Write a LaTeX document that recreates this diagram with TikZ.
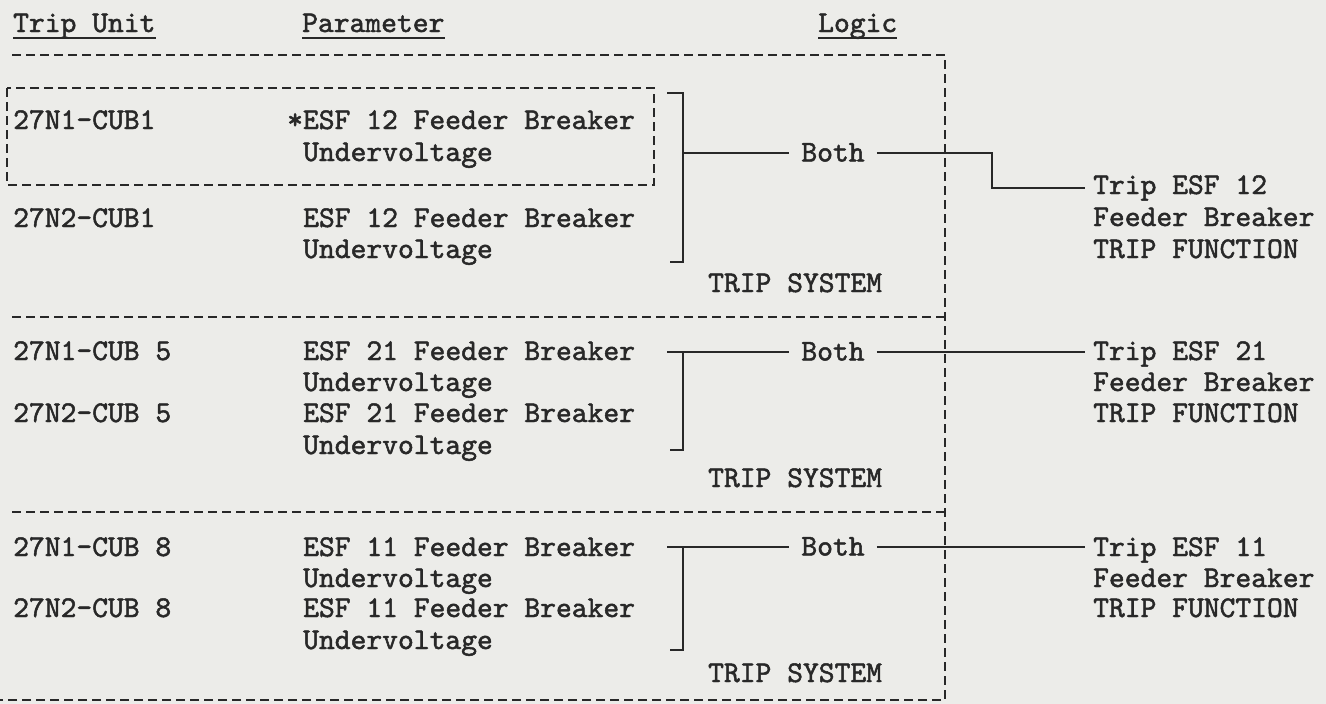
\documentclass[tikz,border=0pt]{standalone}
\usepackage{fontspec}
\newfontfamily\typefont{lmmono10-regular.otf}[RawFeature={embolden=1.6}]
\usepackage{xcolor}
\usepackage{tikz}
\usetikzlibrary{positioning}

\definecolor{paper}{RGB}{236,236,233}
\definecolor{ink}{RGB}{40,40,40}

\begin{document}
\begin{tikzpicture}[
  x=1pt, y=-1pt,
  txt/.style={inner sep=0pt, anchor=base west, text=ink,
              font=\typefont\fontsize{30.1}{34}\selectfont},
  both/.style={txt, anchor=base, inner xsep=12pt},
  sep/.style={draw=ink, line width=2.7pt, dash pattern=on 9pt off 5pt},
  wire/.style={draw=ink, line width=2.7pt},
  uline/.style={draw=ink, line width=2.2pt}
]
\fill[paper] (0,0) rectangle (1326,704);
\useasboundingbox (0,0) rectangle (1326,704);

% headings
\node[txt] (hunit) at (13,32) {Trip Unit};
\node[txt] (hpar) at (302,32) {Parameter};
\node[txt] (hlogic) at (818,32) {Logic};
\draw[uline] ([yshift=-6pt]hunit.base west) -- ([yshift=-6pt]hunit.base east);
\draw[uline] ([yshift=-6pt]hpar.base west) -- ([yshift=-6pt]hpar.base east);
\draw[uline] ([yshift=-6pt]hlogic.base west) -- ([yshift=-6pt]hlogic.base east);

% trip system frames
\draw[sep] (12,55) -- (945,55) -- (945,700) -- (0,700);
\draw[sep] (12,317) -- (945,317);
\draw[sep] (12,512) -- (945,512);
\draw[sep] (7,88) rectangle (654,185);

% ESF 12
\node[txt] (unit1a) at (13,129) {27N1-CUB1};
\node[txt] (par1a) at (287,129) {*ESF 12 Feeder Breaker};
\node[txt] (par1b) at (303,161) {Undervoltage};
\node[txt] (unit1b) at (13,227) {27N2-CUB1};
\node[txt] (par1c) at (303,227) {ESF 12 Feeder Breaker};
\node[txt] (par1d) at (303,258) {Undervoltage};
\node[txt] (sys1) at (708,292) {TRIP SYSTEM};
\node[both] (both1) at (833,161.5) {Both};
\node[txt] (out1a) at (1093,194) {Trip ESF 12};
\node[txt] (out1b) at (1093,226) {Feeder Breaker};
\node[txt] (out1c) at (1093,258) {TRIP FUNCTION};
\coordinate (brk1t) at (683,93);
\coordinate (brk1m) at (683,153);
\coordinate (brk1b) at (683,262);
\coordinate (bend1) at (992,153);
\draw[wire] ([xshift=-16pt]brk1t) -- (brk1t) -- (brk1b) -- ([xshift=-13pt]brk1b);
\draw[wire] (brk1m) -- (brk1m -| both1.west);
\draw[wire] (both1.east |- brk1m) -- (bend1) |- ([xshift=-8pt]out1a.west);

% ESF 21
\node[txt] (unit2a) at (13,360) {27N1-CUB 5};
\node[txt] (par2a) at (303,360) {ESF 21 Feeder Breaker};
\node[txt] (par2b) at (303,391) {Undervoltage};
\node[txt] (unit2b) at (13,422) {27N2-CUB 5};
\node[txt] (par2c) at (303,422) {ESF 21 Feeder Breaker};
\node[txt] (par2d) at (303,454) {Undervoltage};
\node[txt] (sys2) at (708,487) {TRIP SYSTEM};
\node[both] (both2) at (833,360.5) {Both};
\node[txt] (out2a) at (1093,360) {Trip ESF 21};
\node[txt] (out2b) at (1093,391) {Feeder Breaker};
\node[txt] (out2c) at (1093,422) {TRIP FUNCTION};
\coordinate (brk2t) at (683,352);
\coordinate (brk2b) at (683,450);
\draw[wire] ([xshift=-16pt]brk2t) -- (brk2t -| both2.west);
\draw[wire] (brk2t) -- (brk2b) -- ([xshift=-13pt]brk2b);
\draw[wire] (both2.east |- brk2t) -- ([xshift=-8pt]out2a.west |- brk2t);

% ESF 11
\node[txt] (unit3a) at (13,556) {27N1-CUB 8};
\node[txt] (par3a) at (303,556) {ESF 11 Feeder Breaker};
\node[txt] (par3b) at (303,587) {Undervoltage};
\node[txt] (unit3b) at (13,617) {27N2-CUB 8};
\node[txt] (par3c) at (303,617) {ESF 11 Feeder Breaker};
\node[txt] (par3d) at (303,649) {Undervoltage};
\node[txt] (sys3) at (708,682) {TRIP SYSTEM};
\node[both] (both3) at (833,555.5) {Both};
\node[txt] (out3a) at (1093,556) {Trip ESF 11};
\node[txt] (out3b) at (1093,587) {Feeder Breaker};
\node[txt] (out3c) at (1093,617) {TRIP FUNCTION};
\coordinate (brk3t) at (683,547);
\coordinate (brk3b) at (683,650);
\draw[wire] ([xshift=-16pt]brk3t) -- (brk3t -| both3.west);
\draw[wire] (brk3t) -- (brk3b) -- ([xshift=-13pt]brk3b);
\draw[wire] (both3.east |- brk3t) -- ([xshift=-8pt]out3a.west |- brk3t);
\end{tikzpicture}
\end{document}
